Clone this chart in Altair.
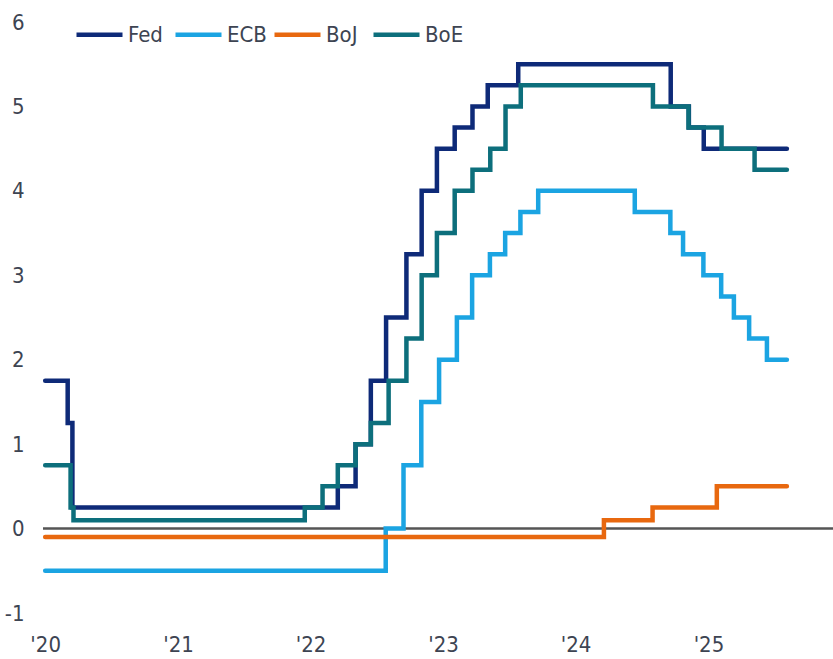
import altair as alt
import pandas as pd

# Policy rates (%) by central bank, recorded at each change date
fed_dates = ["2020-01-01", "2020-03-03", "2020-03-16", "2022-03-17", "2022-05-05",
             "2022-06-16", "2022-07-28", "2022-09-22", "2022-11-03", "2022-12-15",
             "2023-02-02", "2023-03-23", "2023-05-04", "2023-07-27", "2024-09-19",
             "2024-11-08", "2024-12-19", "2025-08-05"]
fed_rates = [1.75, 1.25, 0.25, 0.5, 1.0, 1.75, 2.5, 3.25, 4.0, 4.5, 4.75, 5.0, 5.25,
             5.5, 5.0, 4.75, 4.5, 4.5]

ecb_dates = ["2020-01-01", "2022-07-27", "2022-09-14", "2022-11-02", "2022-12-21",
             "2023-02-08", "2023-03-22", "2023-05-10", "2023-06-21", "2023-08-02",
             "2023-09-20", "2024-06-12", "2024-09-18", "2024-10-23", "2024-12-18",
             "2025-02-05", "2025-03-12", "2025-04-23", "2025-06-11", "2025-08-05"]
ecb_rates = [-0.5, 0.0, 0.75, 1.5, 2.0, 2.5, 3.0, 3.25, 3.5, 3.75, 4.0, 3.75, 3.5,
             3.25, 3.0, 2.75, 2.5, 2.25, 2.0, 2.0]

boj_dates = ["2020-01-01", "2024-03-19", "2024-07-31", "2025-01-24", "2025-08-05"]
boj_rates = [-0.1, 0.1, 0.25, 0.5, 0.5]

boe_dates = ["2020-01-01", "2020-03-11", "2020-03-19", "2021-12-16", "2022-02-03",
             "2022-03-17", "2022-05-05", "2022-06-16", "2022-08-04", "2022-09-22",
             "2022-11-03", "2022-12-15", "2023-02-02", "2023-03-23", "2023-05-11",
             "2023-06-22", "2023-08-03", "2024-08-01", "2024-11-07", "2025-02-06",
             "2025-05-08", "2025-08-05"]
boe_rates = [0.75, 0.25, 0.1, 0.25, 0.5, 0.75, 1.0, 1.25, 1.75, 2.25, 3.0, 3.5, 4.0,
             4.25, 4.5, 5.0, 5.25, 5.0, 4.75, 4.5, 4.25, 4.25]

banks = ["Fed", "ECB", "BoJ", "BoE"]
colors = ["#0e2a78", "#1ba4e2", "#e8680f", "#0d6f7c"]
y_ticks = [-1, 0, 1, 2, 3, 4, 5, 6]
x_years = [2020, 2021, 2022, 2023, 2024, 2025]

series = {
    "Fed": (fed_dates, fed_rates),
    "ECB": (ecb_dates, ecb_rates),
    "BoJ": (boj_dates, boj_rates),
    "BoE": (boe_dates, boe_rates),
}
frames = []
for bank in banks:
    d, r = series[bank]
    frames.append(pd.DataFrame({"date": pd.to_datetime(d), "rate": r, "bank": bank}))
df = pd.concat(frames, ignore_index=True)

FONT = "DejaVu Sans Condensed, Roboto, sans-serif"
TEXT = "#3d4452"
FS = 22

x_enc = alt.X(
    "date:T",
    title=None,
    scale=alt.Scale(domain=[alt.DateTime(year=2019, month=12, date=26),
                            alt.DateTime(year=2025, month=12, date=10)]),
    axis=alt.Axis(
        values=[alt.DateTime(year=y, month=1, date=1) for y in x_years],
        format="'%y", domain=False, ticks=False, grid=False,
        labelPadding=21, labelFontSize=FS, labelFont=FONT, labelColor=TEXT,
        labelAlign="center",
    ),
)
y_enc = alt.Y(
    "rate:Q",
    title=None,
    scale=alt.Scale(domain=[-1, 6], nice=False, zero=False),
    axis=alt.Axis(
        values=y_ticks, labelExpr="toString(datum.value)",
        domain=False, ticks=False, grid=False,
        labelPadding=19, labelFontSize=FS, labelFont=FONT, labelColor=TEXT,
    ),
)

zero = alt.Chart(pd.DataFrame({"y": [0]})).mark_rule(
    color="#555555", strokeWidth=2.5
).encode(y=alt.Y("y:Q", scale=alt.Scale(domain=[-1, 6], nice=False)))

lines = alt.Chart(df).mark_line(
    interpolate="step-after", strokeWidth=4.5, strokeCap="round", strokeJoin="miter"
).encode(
    x=x_enc,
    y=y_enc,
    color=alt.Color(
        "bank:N",
        sort=banks,
        scale=alt.Scale(domain=banks, range=colors),
        legend=alt.Legend(
            title=None, orient="none", legendX=31, legendY=-13,
            direction="horizontal", columns=4, gridAlign="all",
            symbolType="stroke", symbolSize=2116,
            symbolStrokeWidth=4.5, labelFontSize=FS, labelFont=FONT,
            labelColor=TEXT, labelOffset=3, columnPadding=-2,
        ),
    ),
    order=alt.Order("date:T"),
)

chart = alt.layer(zero, lines).properties(
    width=790, height=591,
    padding={"left": 43, "top": 22, "right": 0, "bottom": 46},
    autosize="none",
    background="white",
).configure_view(stroke=None)

chart.save("out.html", embed_options={"renderer": "svg", "actions": False})
